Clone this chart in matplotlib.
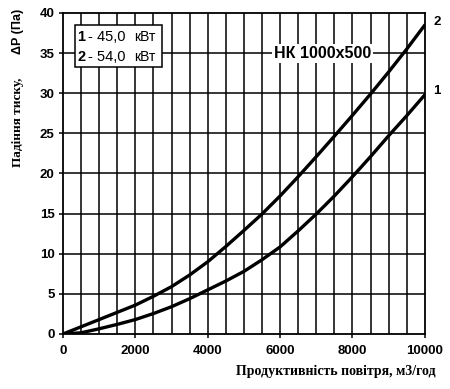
import numpy as np
import matplotlib.pyplot as plt
from matplotlib.patches import Rectangle

# air flow, m3/h
flow = [0, 500, 1000, 1500, 2000, 2500, 3000, 3500, 4000, 4500, 5000,
        5500, 6000, 6500, 7000, 7500, 8000, 8500, 9000, 9500, 10000]
# pressure drop, Pa
dp_1 = [0, 0.15, 0.65, 1.2, 1.8, 2.55, 3.4, 4.4, 5.5, 6.6, 7.8,
        9.25, 10.85, 12.85, 14.95, 17.2, 19.6, 22.1, 24.7, 27.2, 29.8]
dp_2 = [0, 0.9, 1.8, 2.7, 3.6, 4.7, 5.9, 7.35, 9.0, 10.9, 12.9,
        14.95, 17.2, 19.6, 22.1, 24.65, 27.25, 29.9, 32.65, 35.5, 38.5]

curve_ids = ["1", "2"]
power = ["- 45,0", "- 54,0"]
unit = "кВт"

fig = plt.figure(figsize=(4.5, 3.89), dpi=100)
ax = fig.add_axes([0.14, 0.1414, 0.804, 0.8252])

for x in np.arange(500, 10000, 500):
    ax.axvline(x, color="black", lw=1.1, zorder=1)
for y in np.arange(5, 40, 5):
    ax.axhline(y, color="black", lw=1.1, zorder=1)

ax.plot(flow, dp_1, color="black", lw=2.4, zorder=3, solid_capstyle="round")
ax.plot(flow, dp_2, color="black", lw=2.4, zorder=3, solid_capstyle="round")

ax.set_xlim(0, 10000)
ax.set_ylim(0, 40)
ax.set_xticks(range(0, 10001, 2000))
ax.set_yticks(range(0, 41, 5))
for s in ax.spines.values():
    s.set_linewidth(1.3)
ax.tick_params(length=3, width=1.1, labelsize=9.5)
ax.tick_params(axis="x", pad=5)
ax.tick_params(axis="y", pad=3)
for lab in ax.get_xticklabels() + ax.get_yticklabels():
    lab.set_fontfamily("Liberation Sans")
    lab.set_fontweight("bold")

# curve numbers at right end
ax.text(10330, 38.9, "2", fontsize=9.5, fontweight="bold",
        family="Liberation Sans", ha="center", va="center", clip_on=False)
ax.text(10330, 30.3, "1", fontsize=9.5, fontweight="bold",
        family="Liberation Sans", ha="center", va="center", clip_on=False)

# legend box
ax.add_patch(Rectangle((330, 33.3), 2405, 5.2, fc="white", ec="black",
                       lw=1.1, zorder=5))
for i, (cid, p) in enumerate(zip(curve_ids, power)):
    yy = 37.0 - i * 2.5
    ax.text(400, yy, cid, fontsize=10.5, fontweight="bold",
            family="Liberation Sans", ha="left", va="center", zorder=6)
    ax.text(700, yy, p, fontsize=10.5, family="Liberation Sans",
            ha="left", va="center", zorder=6)
    ax.text(1960, yy, unit, fontsize=10, family="Liberation Sans",
            ha="left", va="center", zorder=6)

ax.text(7180, 35, "НК 1000х500", fontsize=11.5, fontweight="bold",
        family="Liberation Sans", ha="center", va="center", zorder=5,
        bbox=dict(boxstyle="square,pad=0.12", fc="white", ec="none"))

fig.text(0.04, 0.686, "Падіння тиску,", rotation=90, ha="center", va="center",
         family="Liberation Serif", fontweight="bold", fontsize=9.5)
fig.text(0.04, 0.92, "ΔP (Па)", rotation=90, ha="center", va="center",
         family="Liberation Sans", fontweight="bold", fontsize=9)
fig.text(0.747, 0.044, "Продуктивність повітря, м3/год", ha="center",
         va="center", family="Liberation Serif", fontweight="bold", fontsize=10)

fig.savefig("out.png", dpi=100)
